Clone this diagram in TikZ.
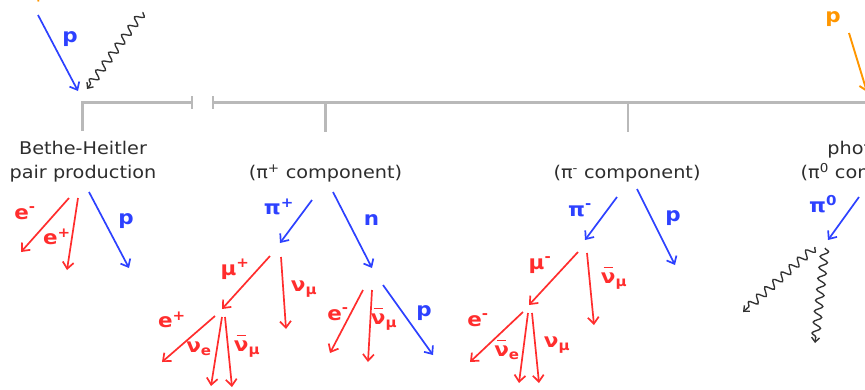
\documentclass[tikz,border=0pt]{standalone}
\usepackage{fontspec}
\newfontfamily\vf[FakeStretch=1.1]{DejaVu Sans}
\usetikzlibrary{arrows.meta,decorations.pathmorphing}
\definecolor{pblue}{RGB}{45,65,255}
\definecolor{pred}{RGB}{255,45,45}
\definecolor{porange}{RGB}{255,150,0}
\definecolor{pgray}{RGB}{185,185,185}
\definecolor{ptext}{RGB}{45,45,45}
\newsavebox\ovlbox
\newcommand\ovl[1]{\sbox\ovlbox{#1}\rlap{\hbox to\wd\ovlbox{\hss\rule[0.78em]{0.62\wd\ovlbox}{1.3pt}\hss}}\usebox\ovlbox}
\begin{document}
\begin{tikzpicture}[x=1pt,y=-1pt,
  tipv/.style={-{Straight Barb[length=6.5pt,width=11pt]}},
  barr/.style={draw=pblue, line width=1.7pt, tipv},
  rarr/.style={draw=pred, line width=1.7pt, tipv},
  oarr/.style={draw=porange, line width=1.9pt, tipv},
  warr/.style={draw=black!80, line width=1.35pt, -{Straight Barb[length=4.5pt,width=8pt]}, decorate, decoration={snake, amplitude=4pt, segment length=11pt, post length=5pt}},
  gline/.style={draw=pgray, line width=2.6pt},
  lbl/.style={font=\vf\bfseries\fontsize{19.5}{20}\selectfont, inner sep=0pt},
  bl/.style={lbl, text=pblue},
  rl/.style={lbl, text=pred},
  ol/.style={lbl, text=porange},
  ttl/.style={font=\vf\fontsize{17.5}{24}\selectfont, text=ptext, align=center, inner sep=0pt},
]
\useasboundingbox (0,0) rectangle (865,389);
\clip (0,0) rectangle (865,389);

% ---------- gray bracket ----------
\coordinate (bhtop) at (82.5,102.5);
\coordinate (bhbot) at (82.5,131);
\coordinate (brA) at (192,102.5);
\coordinate (brAt) at (192,96);
\coordinate (brAb) at (192,109);
\coordinate (brB) at (213,102.5);
\coordinate (brBt) at (213,96);
\coordinate (brBb) at (213,109);
\coordinate (brE) at (870,102.5);
\coordinate (tpP) at (325.5,102.5);
\coordinate (tpPb) at (325.5,132);
\coordinate (tpM) at (628,102.5);
\coordinate (tpMb) at (628,132);
\draw[gline] (bhbot) -- (bhtop) -- (brA);
\draw[gline] (brAt) -- (brAb);
\draw[gline] (brBt) -- (brBb);
\draw[gline] (brB) -- (brE);
\draw[gline] (tpP) -- (tpPb);
\draw[gline] (tpM) -- (tpMb);

% ---------- titles ----------
\node[ttl] (bhtxt) at (83,161.5) {Bethe-Heitler\\pair production};
\node[ttl] (pptxt) at (325.5,173.5) {(π\textsuperscript{+} component)};
\node[ttl] (pmtxt) at (627,173.5) {(π\textsuperscript{-} component)};
\node[ttl] (p0txt) at (876,161.5) {photopion\\(π\textsuperscript{0} component)};

% ---------- incoming ----------
\coordinate (od1) at (37.5,-4);
\coordinate (od2) at (38.5,1.5);
\draw[porange, line width=1.8pt] (od1) -- (od2);
\coordinate (pin1) at (38,15);
\coordinate (pin2) at (78,91);
\draw[barr] (pin1) -- (pin2);
\node[bl] (lpin) at (70,39) {p};
\coordinate (gin1) at (143,12);
\coordinate (gin2) at (87,89);
\draw[warr] (gin1) -- (gin2);

\node[ol] (lpo) at (833,19) {p};
\coordinate (po1) at (849,33);
\coordinate (po2) at (867,92);
\draw[oarr] (po1) -- (po2);

% ---------- Bethe-Heitler ----------
\coordinate (bem1) at (69,198);   \coordinate (bem2) at (21,252);
\coordinate (bep1) at (78,198);   \coordinate (bep2) at (67,270);
\coordinate (bp1) at (89,192);    \coordinate (bp2) at (129,268);
\draw[rarr] (bem1) -- (bem2);
\draw[rarr] (bep1) -- (bep2);
\draw[barr] (bp1) -- (bp2);
\node[rl] (lbem) at (25,213) {e\textsuperscript{-}};
\node[rl] (lbep) at (57,237) {e\textsuperscript{+}};
\node[bl] (lbp) at (126,221) {p};

% ---------- pi+ component ----------
\coordinate (pip1) at (312,200);  \coordinate (pip2) at (280,243);
\coordinate (n1) at (333,192);    \coordinate (n2) at (372,268);
\coordinate (mup1) at (270,256);  \coordinate (mup2) at (222,309);
\coordinate (vm1) at (281,257);   \coordinate (vm2) at (286,329);
\coordinate (ep1) at (215,316);   \coordinate (ep2) at (162,362);
\coordinate (ve1) at (222,317);   \coordinate (ve2) at (211,386);
\coordinate (avm1) at (225,317);  \coordinate (avm2) at (232,387);
\coordinate (ne1) at (363,290);   \coordinate (ne2) at (330,353);
\coordinate (nv1) at (372,290);   \coordinate (nv2) at (368,362);
\coordinate (np1) at (383,285);   \coordinate (np2) at (433,355);
\draw[barr] (pip1) -- (pip2);
\draw[barr] (n1) -- (n2);
\draw[rarr] (mup1) -- (mup2);
\draw[rarr] (vm1) -- (vm2);
\draw[rarr] (ep1) -- (ep2);
\draw[rarr] (ve1) -- (ve2);
\draw[rarr] (avm1) -- (avm2);
\draw[rarr] (ne1) -- (ne2);
\draw[rarr] (nv1) -- (nv2);
\draw[barr] (np1) -- (np2);
\node[bl] (lpip) at (279,207) {π\textsuperscript{+}};
\node[bl] (ln) at (371.5,220) {n};
\node[rl] (lmup) at (235,269) {μ\textsuperscript{+}};
\node[rl] (lvm) at (304,289) {ν\textsubscript{μ}};
\node[rl] (lep) at (172,320) {e\textsuperscript{+}};
\node[rl] (lve) at (199,349) {ν\textsubscript{e}};
\node[rl] (lavm) at (247,346) {\ovl{ν}\textsubscript{μ}};
\node[rl] (lne) at (338,314) {e\textsuperscript{-}};
\node[rl] (lnv) at (384,319) {\ovl{ν}\textsubscript{μ}};
\node[bl] (lnp) at (424,313) {p};

% ---------- pi- component ----------
\coordinate (pim1) at (617,197);  \coordinate (pim2) at (585,240);
\coordinate (pp1) at (637,189);   \coordinate (pp2) at (675,265);
\coordinate (mum1) at (578,252);  \coordinate (mum2) at (529,305);
\coordinate (av1) at (587,253);   \coordinate (av2) at (594,325);
\coordinate (em1) at (523,312);   \coordinate (em2) at (470,362);
\coordinate (ave1) at (528,313);  \coordinate (ave2) at (519,383);
\coordinate (vmm1) at (532,313);  \coordinate (vmm2) at (539,383);
\draw[barr] (pim1) -- (pim2);
\draw[barr] (pp1) -- (pp2);
\draw[rarr] (mum1) -- (mum2);
\draw[rarr] (av1) -- (av2);
\draw[rarr] (em1) -- (em2);
\draw[rarr] (ave1) -- (ave2);
\draw[rarr] (vmm1) -- (vmm2);
\node[bl] (lpim) at (580,210) {π\textsuperscript{-}};
\node[bl] (lpp) at (673,218) {p};
\node[rl] (lmum) at (540,265) {μ\textsuperscript{-}};
\node[rl] (lav) at (614,278) {\ovl{ν}\textsubscript{μ}};
\node[rl] (lem) at (478,320) {e\textsuperscript{-}};
\node[rl] (lave) at (507,350) {\ovl{ν}\textsubscript{e}};
\node[rl] (lvmm) at (557,345) {ν\textsubscript{μ}};

% ---------- pi0 component ----------
\coordinate (pi01) at (859,197);  \coordinate (pi02) at (828,240);
\coordinate (ga1) at (815,247);   \coordinate (ga2) at (743,312);
\coordinate (gb1) at (825,248);   \coordinate (gb2) at (815,343);
\draw[barr] (pi01) -- (pi02);
\draw[warr] (ga1) -- (ga2);
\draw[warr] (gb1) -- (gb2);
\node[bl] (lpi0) at (823,204) {π\textsuperscript{0}};
\end{tikzpicture}
\end{document}
